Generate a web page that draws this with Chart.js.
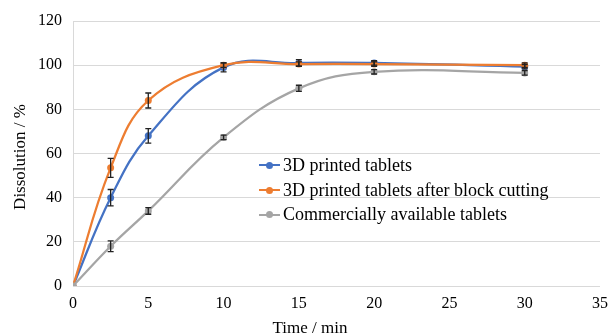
<!DOCTYPE html>
<html>
<head>
<meta charset="utf-8">
<script src="https://cdn.jsdelivr.net/npm/chart.js@4"></script>
<style>
  html, body { margin: 0; padding: 0; background: #fff; }
  #wrap { position: relative; width: 609px; height: 335px; }
  #legend { position: absolute; left: 259px; top: 153px; font-family: 'Liberation Serif', serif; font-size: 18px; color: #000; }
  .item { height: 24.7px; display: flex; align-items: center; white-space: nowrap; }
  .sw { position: relative; width: 21px; height: 2px; margin-right: 3px; }
  .sw span { position: absolute; left: 7px; top: -2.5px; width: 7px; height: 7px; border-radius: 50%; }
</style>
</head>
<body>
<div id="wrap">
  <canvas id="c" width="609" height="335"></canvas>
  <div id="legend"></div>
</div>
<script>
const timeMin = [0, 2.5, 5, 10, 15, 20, 30];
const seriesNames = ['3D printed tablets', '3D printed tablets after block cutting', 'Commercially available tablets'];
const printed = [0, 40, 68, 99, 101, 101, 99.3];
const printedErr = [0, 3.7, 3.3, 2, 1.5, 1, 1];
const cut = [0, 53.5, 84, 100, 100.5, 100.5, 100];
const cutErr = [0, 4.3, 3.4, 1, 1, 1, 1];
const commercial = [0, 18, 34, 67.3, 89.5, 97, 96.5];
const commercialErr = [0, 2.4, 1.5, 1, 1.4, 1, 1];
const xTicks = [0, 5, 10, 15, 20, 25, 30, 35];
const yTicks = [0, 20, 40, 60, 80, 100, 120];
const colors = ['#4472C4', '#ED7D31', '#A5A5A5'];

const values = [printed, cut, commercial];
const errors = [printedErr, cutErr, commercialErr];
const FONT = "'Liberation Serif', 'Times New Roman', serif";

const datasets = values.map((v, i) => ({
  label: seriesNames[i],
  data: timeMin.map((t, j) => ({ x: t, y: v[j] })),
  borderColor: colors[i],
  backgroundColor: colors[i],
  borderWidth: 2.25,
  pointRadius: 3.5,
  pointBorderWidth: 0,
  tension: 0.4,
  order: 2 - i,
  errs: errors[i]
}));

const errorBars = {
  id: 'errorBars',
  afterDatasetsDraw(chart) {
    const ctx = chart.ctx;
    const ys = chart.scales.y;
    ctx.save();
    ctx.strokeStyle = '#222';
    ctx.lineWidth = 1.3;
    chart.data.datasets.forEach((ds, di) => {
      const meta = chart.getDatasetMeta(di);
      ds.data.forEach((p, j) => {
        const e = ds.errs[j];
        if (!e) return;
        const x = meta.data[j].x;
        const y1 = ys.getPixelForValue(p.y + e);
        const y2 = ys.getPixelForValue(p.y - e);
        ctx.beginPath();
        ctx.moveTo(x, y1); ctx.lineTo(x, y2);
        ctx.moveTo(x - 3, y1); ctx.lineTo(x + 3, y1);
        ctx.moveTo(x - 3, y2); ctx.lineTo(x + 3, y2);
        ctx.stroke();
      });
    });
    ctx.restore();
  }
};

const axisTitles = {
  id: 'axisTitles',
  afterDraw(chart) {
    const ctx = chart.ctx;
    ctx.save();
    ctx.fillStyle = '#000';
    ctx.font = '17px ' + FONT;
    ctx.textAlign = 'center';
    ctx.textBaseline = 'alphabetic';
    ctx.fillText('Time / min', 310, 333);
    ctx.translate(25, 157);
    ctx.rotate(-Math.PI / 2);
    ctx.fillText('Dissolution / %', 0, 0);
    ctx.restore();
  }
};

new Chart(document.getElementById('c'), {
  type: 'line',
  data: { datasets },
  options: {
    responsive: false,
    animation: false,
    layout: { padding: { top: 21, right: 0, left: 0, bottom: 0 } },
    plugins: { legend: { display: false }, tooltip: { enabled: false } },
    scales: {
      x: {
        type: 'linear', min: 0, max: 35,
        afterBuildTicks(s) { s.ticks = xTicks.map(v => ({ value: v })); },
        afterFit(s) { s.height = 49; s.paddingRight = 9; s.paddingLeft = 0; },
        grid: { display: false, drawTicks: false },
        border: { display: false },
        ticks: { color: '#000', font: { family: FONT, size: 16 }, padding: 8, maxRotation: 0 }
      },
      y: {
        min: 0, max: 120,
        afterBuildTicks(s) { s.ticks = yTicks.map(v => ({ value: v })); },
        afterFit(s) { s.width = 73; s.paddingTop = 0; s.paddingBottom = 0; },
        grid: { color: '#D9D9D9', lineWidth: 1, drawTicks: false },
        border: { display: true, color: '#D9D9D9', width: 1 },
        ticks: { color: '#000', font: { family: FONT, size: 16 }, padding: 11 }
      }
    }
  },
  plugins: [errorBars, axisTitles]
});

const lg = document.getElementById('legend');
seriesNames.forEach((n, i) => {
  const d = document.createElement('div');
  d.className = 'item';
  const sw = document.createElement('div');
  sw.className = 'sw';
  sw.style.background = colors[i];
  const dot = document.createElement('span');
  dot.style.background = colors[i];
  sw.appendChild(dot);
  d.appendChild(sw);
  d.appendChild(document.createTextNode(n));
  lg.appendChild(d);
});
</script>
</body>
</html>
